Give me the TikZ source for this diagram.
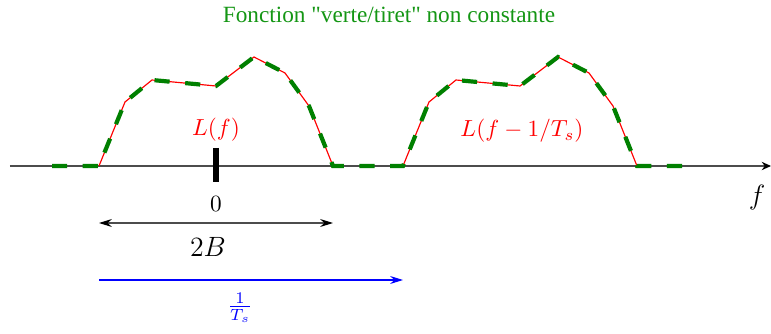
\documentclass[tikz,border=0pt]{standalone}
\usepackage{fontspec}
\newfontfamily\titlefont{Liberation Serif}
\usetikzlibrary{arrows.meta,positioning}
\definecolor{dashgreen}{RGB}{0,128,0}
\definecolor{titlegreen}{RGB}{20,150,20}

% one bump of the spectrum, drawn from its left foot
\newcommand{\bump}{-- ++(26,-64) -- ++(27,-22) -- ++(64,6) -- ++(38,-29) -- ++(31,16) -- ++(24,33) -- ++(24,60)}

\begin{document}
\begin{tikzpicture}[
    x=0.43pt, y=-0.43pt,
    every node/.style={font=\normalsize},
    axis/.style={draw=black!70, line width=0.5pt, -{Stealth[length=4pt, width=3.6pt, black]}},
    spectrum/.style={red, line width=0.5pt},
    greendash/.style={dashgreen, line width=1.8pt, dash pattern=on 6.5pt off 6.7pt},
    tickmark/.style={black, line width=2.2pt},
    span/.style={draw=black!70, line width=0.5pt, {Stealth[length=5.5pt, width=3.4pt, black]}-{Stealth[length=5.5pt, width=3.4pt, black]}},
    period/.style={blue, line width=0.45pt, -{Stealth[length=5.5pt, width=3.4pt]}}
]
\useasboundingbox (0,0) rectangle (771,334);

% Title
\node[text=titlegreen, font=\titlefont\normalsize] (title) at (389,15) {Fonction "verte/tiret" non constante};

% Frequency axis
\coordinate (axstart) at (10,166);
\coordinate (axend) at (771,166);
\draw[axis] (axstart) -- (axend);
\node[font=\large] (flabel) at (757,198) {$f$};

% Spectrum and its shifted copy
\coordinate (foot1) at (99,166);
\coordinate (foot2) at (403,166);
\draw[spectrum] (foot1) \bump;
\draw[spectrum] (foot2) \bump;
\draw[greendash] (52,166) -- (foot1) \bump -- (foot2) \bump -- (685,166);

\node[text=red] (lf) at (216,130) {$L(f)$};
\node[text=red] (lfs) at (522,131) {$L(f-1/T_s)$};

% Origin
\coordinate (ticktop) at (216,148);
\coordinate (tickbot) at (216,182);
\draw[tickmark] (ticktop) -- (tickbot);
\node (zero) at (216,204) {$0$};

% Bandwidth 2B
\coordinate (bwleft) at (99,223);
\coordinate (bwright) at (333,223);
\draw[span] (bwleft) -- (bwright);
\node[font=\large] (bw) at (208,247) {$2B$};

% Sampling period 1/Ts
\coordinate (tsleft) at (99,280);
\coordinate (tsright) at (403,280);
\draw[period] (tsleft) -- (tsright);
\node[text=blue] (ts) at (240,308) {$\frac{1}{T_s}$};

\end{tikzpicture}
\end{document}
